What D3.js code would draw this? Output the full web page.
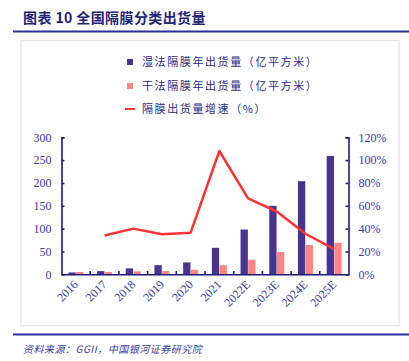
<!DOCTYPE html>
<html>
  <head>
    <meta charset="utf-8">
    <title>全国隔膜分类出货量</title>
    <script src="https://d3js.org/d3.v7.min.js"></script>
    <style>
      body { margin: 0; background: #fff; }
      svg { display: block; }
      .cjk { font-family: "Noto Sans CJK SC", sans-serif; }
    </style>
  </head>
  <body>
    <svg id="chart" width="409" height="361"></svg>
    <script>
      // data
      years = ["2016", "2017", "2018", "2019", "2020", "2021", "2022E", "2023E", "2024E", "2025E"];
      wetVolume = [4, 7, 13, 20, 26, 58, 98, 150, 204, 259];
      dryVolume = [5, 5, 6.5, 7, 10, 20, 32, 49, 64, 69];
      growth = [null, 34, 40, 35, 36.5, 108, 66.5, 55, 35.5, 22];
      leftTicks = [0, 50, 100, 150, 200, 250, 300];
      rightTicks = [0, 20, 40, 60, 80, 100, 120];
      legendLabels = ["湿法隔膜年出货量（亿平方米）", "干法隔膜年出货量（亿平方米）", "隔膜出货量增速（%）"];

      navy = "#1c1c7c";
      tickText = "#3b3b9c";
      wetColour = "#46348f";
      dryColour = "#ff8482";
      lineColour = "#ff3333";

      svg = d3.select("#chart");

      // header and footer
      svg.append("text")
        .attr("class", "cjk")
        .attr("x", 23).attr("y", 23)
        .attr("font-size", 14).attr("font-weight", "bold")
        .attr("letter-spacing", 0.4)
        .attr("fill", "#1f2478")
        .text("图表 10 全国隔膜分类出货量");
      svg.append("line")
        .attr("x1", 13).attr("x2", 409).attr("y1", 31.5).attr("y2", 31.5)
        .attr("stroke", "#2a2f9c").attr("stroke-width", 2);
      svg.append("rect")
        .attr("x", 21).attr("y", 40.5).attr("width", 378).attr("height", 285)
        .attr("fill", "none").attr("stroke", "#e6e6e6").attr("stroke-width", 1.5);
      svg.append("line")
        .attr("x1", 13).attr("x2", 409).attr("y1", 334.5).attr("y2", 334.5)
        .attr("stroke", "#2a2f9c").attr("stroke-width", 2);
      svg.append("text")
        .attr("class", "cjk")
        .attr("x", 23).attr("y", 353)
        .attr("font-size", 10).attr("font-style", "italic")
        .attr("letter-spacing", 0.5)
        .attr("fill", "#3b3b9c")
        .text("资料来源：GGII，中国银河证券研究院");

      // scales
      x = d3.scaleBand().domain(years).range([61.5, 348.5]);
      x1 = d3.scaleBand().domain(["wet", "dry"])
        .range([x.bandwidth() / 2 - 7.5, x.bandwidth() / 2 + 7.5]).paddingInner(0.05);
      yLeft = d3.scaleLinear().domain([0, 300]).range([274.3, 137.3]);
      yRight = d3.scaleLinear().domain([0, 120]).range([274.3, 137.3]);

      // bars
      bars = svg.append("g");
      bars.selectAll(".wet")
          .data(years)
        .enter().append("rect")
          .attr("x", (d) => x(d) + x1("wet"))
          .attr("width", x1.bandwidth())
          .attr("y", (d, i) => yLeft(wetVolume[i]))
          .attr("height", (d, i) => yLeft(0) - yLeft(wetVolume[i]))
          .attr("fill", wetColour);
      bars.selectAll(".dry")
          .data(years)
        .enter().append("rect")
          .attr("x", (d) => x(d) + x1("dry"))
          .attr("width", x1.bandwidth())
          .attr("y", (d, i) => yLeft(dryVolume[i]))
          .attr("height", (d, i) => yLeft(0) - yLeft(dryVolume[i]))
          .attr("fill", dryColour);

      // growth line
      line = d3.line()
        .defined((d) => d != null)
        .x((d, i) => x(years[i]) + x.bandwidth() / 2)
        .y((d) => yRight(d));
      svg.append("path")
        .datum(growth)
        .attr("d", line)
        .attr("fill", "none")
        .attr("stroke", lineColour)
        .attr("stroke-width", 2.5)
        .attr("stroke-linejoin", "round");

      // axes
      function styleAxis(g) {
        g.attr("font-family", "'Liberation Serif', serif").attr("font-size", 12);
        g.selectAll(".domain, .tick line").attr("stroke", navy).attr("stroke-width", 1.6);
        g.selectAll("text").attr("fill", tickText);
      }
      svg.append("g")
        .attr("transform", "translate(61.5,0)")
        .call(d3.axisLeft(yLeft).tickValues(leftTicks).tickSizeInner(-3).tickSizeOuter(-3).tickPadding(10))
        .call(styleAxis);
      svg.append("g")
        .attr("transform", "translate(348.5,0)")
        .call(d3.axisRight(yRight).tickValues(rightTicks).tickFormat((d) => d + "%").tickSizeInner(-3).tickSizeOuter(-3).tickPadding(10))
        .call(styleAxis);
      xAxis = svg.append("g")
        .attr("transform", "translate(0,274.3)")
        .call(d3.axisBottom(x).tickSize(0).tickPadding(0))
        .call(styleAxis);
      xAxis.selectAll(".tick text")
        .attr("text-anchor", "end")
        .attr("dy", 0)
        .attr("transform", "translate(3,11) rotate(-45)");
      // ticks between categories
      svg.append("g").selectAll("line")
          .data(years.slice(1))
        .enter().append("line")
          .attr("x1", (d) => x(d)).attr("x2", (d) => x(d))
          .attr("y1", 274.3).attr("y2", 271)
          .attr("stroke", navy).attr("stroke-width", 1.6);

      // legend
      legend = svg.append("g").attr("class", "cjk");
      legend.selectAll("text")
          .data(legendLabels)
        .enter().append("text")
          .attr("x", 142)
          .attr("y", (d, i) => 66 + i * 23.5)
          .attr("font-size", 11)
          .attr("letter-spacing", 1.6)
          .attr("fill", "#2a2a80")
          .text((d) => d);
      legend.append("rect").attr("x", 127).attr("y", 59).attr("width", 6).attr("height", 6).attr("fill", wetColour);
      legend.append("rect").attr("x", 127).attr("y", 83).attr("width", 6).attr("height", 6).attr("fill", dryColour);
      legend.append("line").attr("x1", 125).attr("x2", 135).attr("y1", 109).attr("y2", 109)
        .attr("stroke", lineColour).attr("stroke-width", 2);
    </script>
  </body>
</html>
